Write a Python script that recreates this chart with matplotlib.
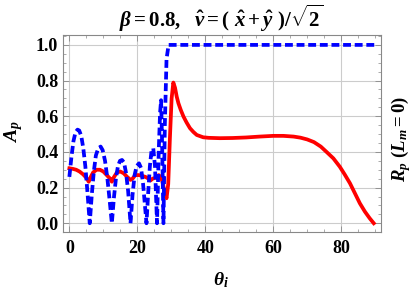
import numpy as np
import matplotlib
matplotlib.use("Agg")
import matplotlib.pyplot as plt
from matplotlib.ticker import MultipleLocator

# A_p (blue dashed)
theta_a = [0, 0.6, 1.2, 1.8, 2.4, 2.9, 3.5, 4.1, 4.7, 5.3, 6.0, 6.6, 7.2, 7.8, 8.5,
           9.2, 9.8, 10.5, 11.2, 11.9, 12.5, 13.1, 13.7, 14.3, 14.9, 15.5, 16.1,
           16.7, 17.3, 18.0, 18.6, 19.2, 19.8, 20.5, 21.1, 21.7, 22.2, 22.7, 23.2,
           23.7, 24.2, 24.7, 25.2, 25.8, 26.3, 26.7, 27.0, 27.3, 27.7, 28.1, 28.6,
           29.2, 90]
a_p = [0.26, 0.37, 0.46, 0.51, 0.525, 0.52, 0.49, 0.42, 0.32, 0.18, 0.0, 0.16, 0.29,
       0.38, 0.42, 0.43, 0.41, 0.35, 0.25, 0.12, 0.0, 0.14, 0.25, 0.32, 0.35, 0.355,
       0.34, 0.28, 0.18, 0.0, 0.16, 0.27, 0.32, 0.336, 0.31, 0.22, 0.11, 0.0, 0.17,
       0.32, 0.41, 0.42, 0.32, 0.0, 0.40, 0.62, 0.69, 0.45, 0.0, 0.55, 0.92, 1.0,
       1.0]

# R_p (L_m = 0) (red solid)
theta_r = [0, 1, 2, 3, 4, 5, 5.7, 6.3, 7, 8, 9, 10, 11, 12, 12.5, 13, 14, 15, 16,
           17, 18, 18.6, 19.4, 20.5, 21.5, 22.4, 23.3, 23.9, 24.5, 25.4, 26.3, 26.8,
           27.3, 28.0, 28.6, 29.1, 29.6, 30.1, 30.6, 31.1, 31.6, 32.1, 32.8, 33.6,
           34.5, 35.5, 36.5, 37.5, 39.4, 41, 44.3, 48, 52, 56, 60, 63, 66, 68, 70,
           72, 74, 75.7, 77.7, 79.6, 81, 82.6, 84, 85.5, 87, 88.4, 89.6]
r_p = [0.308, 0.305, 0.30, 0.29, 0.275, 0.255, 0.233, 0.26, 0.285, 0.30, 0.30, 0.29,
       0.27, 0.25, 0.233, 0.255, 0.285, 0.29, 0.28, 0.26, 0.243, 0.25, 0.27, 0.27,
       0.265, 0.26, 0.25, 0.24, 0.25, 0.255, 0.27, 0.26, 0.24, 0.18, 0.14, 0.22,
       0.48, 0.70, 0.789, 0.76, 0.71, 0.673, 0.635, 0.598, 0.565, 0.533, 0.512,
       0.495, 0.482, 0.479, 0.477, 0.478, 0.481, 0.486, 0.49, 0.49, 0.486, 0.48,
       0.47, 0.455, 0.43, 0.40, 0.364, 0.317, 0.275, 0.224, 0.17, 0.112, 0.065,
       0.028, 0.0]

x_ticks = [0, 20, 40, 60, 80]
y_ticks = [0.0, 0.2, 0.4, 0.6, 0.8, 1.0]

plt.rcParams["font.family"] = ["Liberation Serif", "DejaVu Serif"]
plt.rcParams["font.weight"] = "bold"
plt.rcParams["mathtext.fontset"] = "custom"
plt.rcParams["mathtext.rm"] = "Liberation Serif:bold"
plt.rcParams["mathtext.it"] = "Liberation Serif:bold:italic"
plt.rcParams["mathtext.bf"] = "Liberation Serif:bold"

fig = plt.figure(figsize=(4.15, 2.91), dpi=100)
ax = fig.add_axes([0.152, 0.204, 0.765, 0.676])

ax.plot(theta_r, r_p, color="red", lw=2.7, zorder=3)
ax.plot(theta_a, a_p, color="blue", lw=2.7, dashes=(2.1, 1.0), zorder=4)

ax.set_xlim(-1.85, 91.6)
ax.set_ylim(-0.047, 1.056)
ax.set_xticks(x_ticks)
ax.set_yticks(y_ticks)
ax.set_yticklabels([f"{v:.1f}" for v in y_ticks])
ax.xaxis.set_minor_locator(MultipleLocator(5))
ax.yaxis.set_minor_locator(MultipleLocator(0.05))
ax.tick_params(which="both", direction="in", top=True, right=True,
               color="#888888", labelsize=13)
ax.tick_params(which="major", length=4, width=0.6)
ax.tick_params(axis="x", which="major", pad=6)
ax.tick_params(which="minor", length=2.2, width=0.5)
ax.grid(True, which="major", color="#cccccc", lw=0.8)
for s in ax.spines.values():
    s.set_color("#888888")
    s.set_linewidth(0.8)

ax.set_title(r"$\beta = 0.8,\ \ \hat{v} = (\ \hat{x} + \hat{y}\ )/\sqrt{2}$",
             fontsize=15, pad=6)
# axis labels anchored on their baselines
fig.text(0.532, 0.021, r"$\theta_i$", fontsize=14, ha="center", va="baseline")
fig.text(0.041, 0.509, r"$A_p$", rotation=90, fontsize=14,
         ha="left", va="baseline", rotation_mode="anchor")
fig.text(0.976, 0.376, r"$R_p\ (L_m = 0)$", rotation=90, fontsize=13.5,
         ha="left", va="baseline", rotation_mode="anchor")

fig.savefig("out.png", dpi=100)
